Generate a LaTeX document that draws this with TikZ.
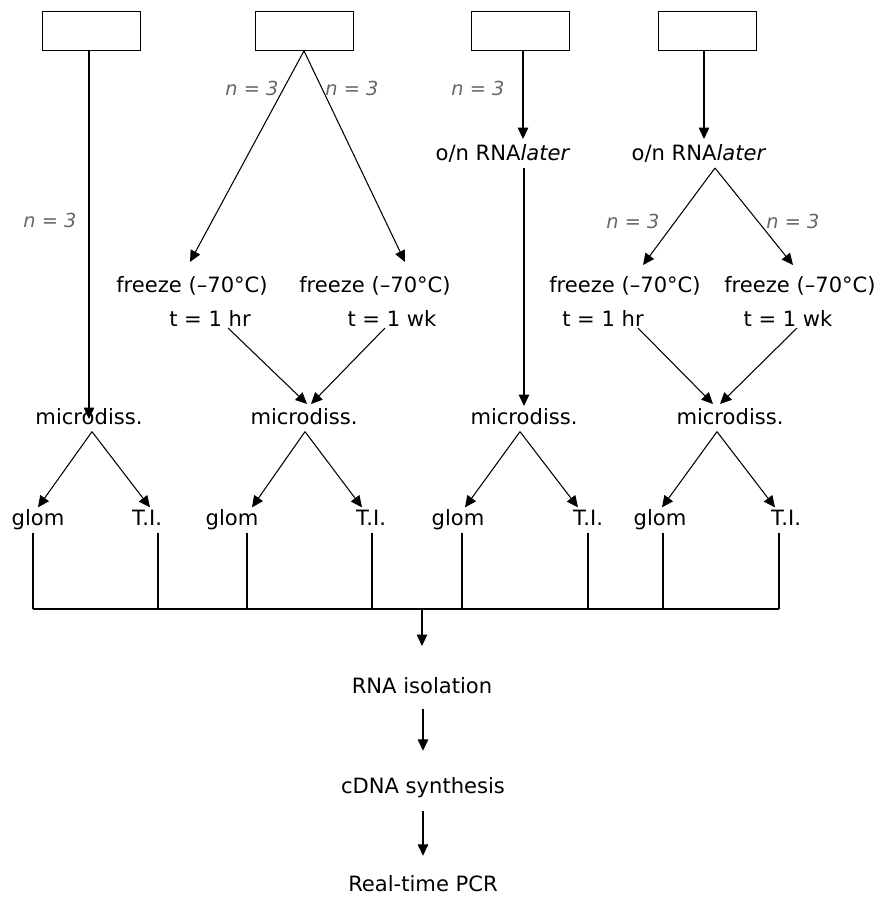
\documentclass[tikz,border=0pt]{standalone}
\usepackage{fontspec}
\setmainfont{DejaVu Sans}
\usetikzlibrary{arrows.meta}
\tikzstyle{box} = [rectangle, draw, minimum width=1.96cm, minimum height=0.78cm, inner sep=0pt]
\tikzstyle{step_txt} = [inner sep=1pt, text height=9pt, text depth=3pt, font=\fontsize{12}{14}\selectfont]
\tikzstyle{nlab} = [inner sep=0pt, text=black!60, font=\fontsize{11}{13}\selectfont\itshape]
\tikzstyle{line} = [draw, line width=0.6pt, -{Triangle[length=6.5pt,width=6pt]}]
\tikzstyle{plain} = [draw, line width=0.6pt]

\begin{document}
\begin{tikzpicture}[x=0.02cm, y=-0.02cm]
    \useasboundingbox (0,0) rectangle (877,897);
    % Place nodes
    \node [box] (b1) at (91,31) {};
    \node [box] (b2) at (304,31) {};
    \node [box] (b3) at (520,31) {};
    \node [box] (b4) at (707,31) {};

    \node [step_txt] (r3) at (503,155) {o/n RNA\textit{later}};
    \node [step_txt] (r4) at (699,155) {o/n RNA\textit{later}};

    \node [step_txt] (f1) at (192,287) {freeze (–70°C)};
    \node [step_txt] (f2) at (375,287) {freeze (–70°C)};
    \node [step_txt] (f3) at (625,287) {freeze (–70°C)};
    \node [step_txt] (f4) at (800,287) {freeze (–70°C)};
    \node [step_txt] (t1) at (210,321) {t = 1 hr};
    \node [step_txt] (t2) at (392,321) {t = 1 wk};
    \node [step_txt] (t3) at (603,321) {t = 1 hr};
    \node [step_txt] (t4) at (788,321) {t = 1 wk};

    \node [step_txt] (m1) at (89,419) {microdiss.};
    \node [step_txt] (m2) at (304,419) {microdiss.};
    \node [step_txt] (m3) at (524,419) {microdiss.};
    \node [step_txt] (m4) at (730,419) {microdiss.};

    \node [step_txt] (g1) at (38,520) {glom};
    \node [step_txt] (i1) at (147,520) {T.I.};
    \node [step_txt] (g2) at (232,520) {glom};
    \node [step_txt] (i2) at (371,520) {T.I.};
    \node [step_txt] (g3) at (458,520) {glom};
    \node [step_txt] (i3) at (588,520) {T.I.};
    \node [step_txt] (g4) at (660,520) {glom};
    \node [step_txt] (i4) at (786,520) {T.I.};

    \node [step_txt] (rna) at (422,688) {RNA isolation};
    \node [step_txt] (cdna) at (423,788) {cDNA synthesis};
    \node [step_txt] (pcr) at (423,886) {Real-time PCR};

    \node [nlab] at (50,220) {n = 3};
    \node [nlab] at (252,88) {n = 3};
    \node [nlab] at (352,88) {n = 3};
    \node [nlab] at (478,88) {n = 3};
    \node [nlab] at (633,221) {n = 3};
    \node [nlab] at (793,221) {n = 3};

    \coordinate (bus) at (422,609);

    % Draw edges
    \path [line] (b1.south -| m1) -- (m1.center);
    \path [line] (b2.south) -- (190,262);
    \path [line] (b2.south) -- (405,262);
    \path [line] (b3.south -| 523,0) -- (523,139);
    \path [line] (b4.south -| 704,0) -- (704,139);
    \path [line] (r3.south -| 524,0) -- (524,406);
    \path [line] (715,168) -- (643,265);
    \path [line] (715,168) -- (793,265);
    \path [line] (228,328) -- (307,404);
    \path [line] (385,328) -- (311,404);
    \path [line] (638,328) -- (713,404);
    \path [line] (797,328) -- (720,404);

    \foreach \m/\sx/\g/\gx/\i/\ix in {m1/92/g1/38/i1/150, m2/305/g2/252/i2/362, m3/520/g3/465/i3/578, m4/717/g4/662/i4/775}
    {
        \path [line] (\m.south -| \sx,0) -- (\g.north -| \gx,0);
        \path [line] (\m.south -| \sx,0) -- (\i.north -| \ix,0);
    }

    \foreach \n/\x in {g1/33, i1/158, g2/247, i2/372, g3/462, i3/588, g4/663, i4/779}
        \path [plain] (\n.south -| \x,0) -- (\x,609);
    \path [plain] (33,609) -- (779,609);
    \path [line] (bus) -- (422,646);
    \path [line] ([yshift=-4.5pt]rna.south -| 423,0) -- ([yshift=14pt]cdna.north -| 423,0);
    \path [line] ([yshift=-6pt]cdna.south -| 423,0) -- ([yshift=10pt]pcr.north -| 423,0);
\end{tikzpicture}
\end{document}
